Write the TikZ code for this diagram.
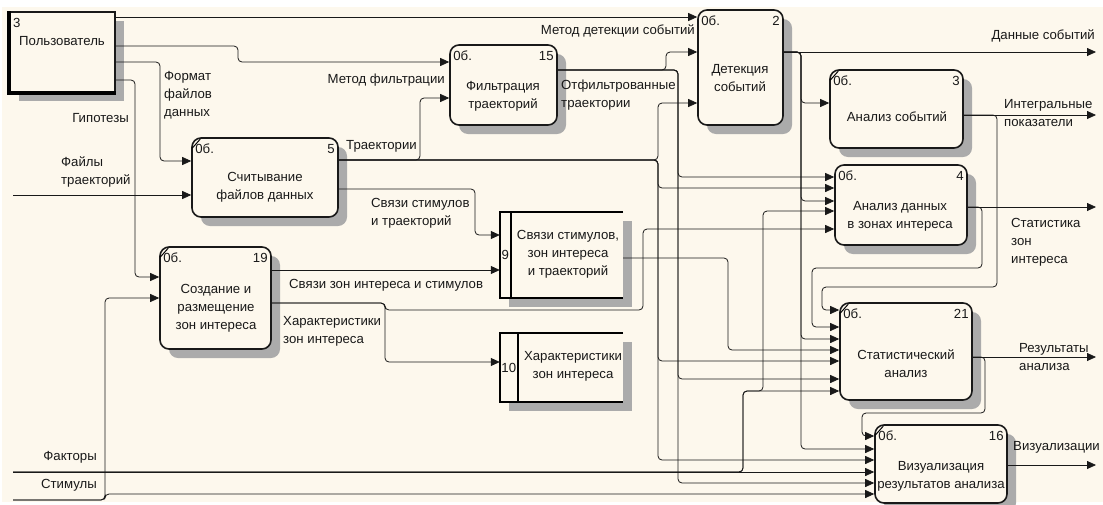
\documentclass[tikz,border=0pt]{standalone}
\usepackage{fontspec}
\setmainfont{Liberation Sans}
\usetikzlibrary{arrows.meta,shadows}
\definecolor{paper}{RGB}{253,248,237}
\definecolor{ink}{RGB}{25,25,25}

\begin{document}
\begin{tikzpicture}[x=1pt,y=-1pt,
    font=\fontsize{13.2}{18}\selectfont,
    every node/.append style={text=ink},
    boxshadow/.style={drop shadow={shadow xshift=9pt,shadow yshift=-9pt,fill=black!33,opacity=1}},
    proc/.style={draw=ink,line width=1.6pt,rounded corners=9pt,fill=paper,inner sep=0pt,boxshadow},
    ext/.style={draw=ink,line width=1.6pt,fill=paper,inner sep=0pt,boxshadow},
    store/.style={draw=none,fill=paper,inner sep=0pt,boxshadow},
    tag/.style={inner sep=0pt},
    txt/.style={inner sep=0pt,align=center},
    lbl/.style={inner sep=0pt,align=left},
    wire/.style={draw=ink,line width=0.8pt,rounded corners=4pt,-{Triangle[length=9pt,width=8pt]}}]

    \fill[white] (0,0) rectangle (1103,504);
    \fill[paper] (2,7) rectangle (1103,502);
    \useasboundingbox (0,0) rectangle (1103,504);

    % external entity
    \node [ext,minimum width=105pt,minimum height=80pt] (user) at (62.5,52) {};
    \draw [line width=3.5pt] (user.north west) -- (user.south west) -- (user.south east);
    \node [tag,anchor=base west] (usern) at (13,27) {3};
    \node [tag,anchor=base west] (usert) at (19,45) {Пользователь};

    % processes
    \node [proc,minimum width=146pt,minimum height=79pt] (p5) at (265,177.5) {};
    \node [proc,minimum width=111pt,minimum height=102pt] (p19) at (215.5,298) {};
    \node [proc,minimum width=107pt,minimum height=80pt] (p15) at (503.5,85) {};
    \node [proc,minimum width=85pt,minimum height=115pt] (p2) at (740.5,67.5) {};
    \node [proc,minimum width=133pt,minimum height=78pt] (p3) at (896.5,109) {};
    \node [proc,minimum width=132pt,minimum height=80pt] (p4) at (901,205) {};
    \node [proc,minimum width=132pt,minimum height=97pt] (p21) at (906,351.5) {};
    \node [proc,minimum width=132pt,minimum height=78pt] (p16) at (941,464) {};

    \foreach \b in {p5,p19,p3,p21,p16}
        \draw [line width=1pt] ([shift={(1,11)}]\b.north west) -- ([shift={(9,2)}]\b.north west);

    \node [txt] (p5t) at (265,187) {Считывание\\файлов данных};
    \node [txt] (p19t) at (216,308) {Создание и\\размещение\\зон интереса};
    \node [txt] (p15t) at (503,96) {Фильтрация\\траекторий};
    \node [txt] (p2t) at (740,78) {Детекция\\событий};
    \node [txt] (p3t) at (897,117) {Анализ событий};
    \node [txt] (p4t) at (900,216) {Анализ данных\\в зонах интереса};
    \node [txt] (p21t) at (906,364) {Статистический\\анализ};
    \node [txt] (p16t) at (941,476) {Визуализация\\результатов анализа};

    \node [tag,anchor=base west] (p5a) at ([shift={(4,16)}]p5.north west) {0б.};
    \node [tag,anchor=base east] (p5b) at ([shift={(-4,16)}]p5.north east) {5};
    \node [tag,anchor=base west] (p19a) at ([shift={(4,16)}]p19.north west) {0б.};
    \node [tag,anchor=base east] (p19b) at ([shift={(-4,16)}]p19.north east) {19};
    \node [tag,anchor=base west] (p15a) at ([shift={(4,16)}]p15.north west) {0б.};
    \node [tag,anchor=base east] (p15b) at ([shift={(-4,16)}]p15.north east) {15};
    \node [tag,anchor=base west] (p2a) at ([shift={(4,16)}]p2.north west) {0б.};
    \node [tag,anchor=base east] (p2b) at ([shift={(-4,16)}]p2.north east) {2};
    \node [tag,anchor=base west] (p3a) at ([shift={(4,16)}]p3.north west) {0б.};
    \node [tag,anchor=base east] (p3b) at ([shift={(-4,16)}]p3.north east) {3};
    \node [tag,anchor=base west] (p4a) at ([shift={(4,16)}]p4.north west) {0б.};
    \node [tag,anchor=base east] (p4b) at ([shift={(-4,16)}]p4.north east) {4};
    \node [tag,anchor=base west] (p21a) at ([shift={(4,16)}]p21.north west) {0б.};
    \node [tag,anchor=base east] (p21b) at ([shift={(-4,16)}]p21.north east) {21};
    \node [tag,anchor=base west] (p16a) at ([shift={(4,16)}]p16.north west) {0б.};
    \node [tag,anchor=base east] (p16b) at ([shift={(-4,16)}]p16.north east) {16};

    % data stores
    \node [store,minimum width=123pt,minimum height=86pt] (s9) at (561.5,255) {};
    \draw [line width=1.6pt] (s9.north east) -- (s9.north west) -- (s9.south west) -- (s9.south east);
    \draw [line width=1.6pt] ([xshift=11pt]s9.north west) -- ([xshift=11pt]s9.south west);
    \node [tag] (s9n) at ([xshift=5.5pt]s9.west) {9};
    \node [txt] (s9t) at (568,254) {Связи стимулов,\\зон интереса\\и траекторий};

    \node [store,minimum width=123pt,minimum height=69pt] (s10) at (561.5,367.5) {};
    \draw [line width=1.6pt] (s10.north east) -- (s10.north west) -- (s10.south west) -- (s10.south east);
    \draw [line width=1.6pt] ([xshift=18pt]s10.north west) -- ([xshift=18pt]s10.south west);
    \node [tag] (s10n) at ([xshift=9pt]s10.west) {10};
    \node [txt] (s10t) at (573,366) {Характеристики\\зон интереса};

    % free ends
    \coordinate (inf) at (13,195);
    \coordinate (infac) at (13,472);
    \coordinate (instim) at (13,500);
    \coordinate (out1) at (1096,52);
    \coordinate (out2) at (1096,115);
    \coordinate (out3) at (1096,207);
    \coordinate (out4) at (1096,357);
    \coordinate (out5) at (1096,465);

    % from the user
    \path[wire] (user.east |- 0,17) -- (p2.west |- 0,17);
    \path[wire] (user.east |- 0,46) -- (238,46) -- (238,62) -- (p15.west |- 0,62);
    \path[wire] (user.east |- 0,62) -- (160,62) -- (160,161) -- (p5.west |- 0,161);
    \path[wire] (user.east |- 0,80) -- (135,80) -- (135,277) -- (p19.west |- 0,277);

    % inputs
    \path[wire] (inf) -- (p5.west |- 0,195);
    \path[wire] (instim) -- (105,500) -- (105,298) -- (p19.west |- 0,298);
    \path[wire] (instim) -- (105,500) -- (105,494) -- (p16.west |- 0,494);
    \path[wire] (infac) -- (p16.west |- 0,472);
    \path[wire] (infac) -- (743,472) -- (743,391) -- (p21.west |- 0,391);
    \path[wire] (infac) -- (743,472) -- (743,391) -- (763,391) -- (763,211) -- (p4.west |- 0,211);

    % trajectories
    \path[wire] (p5.east |- 0,160) -- (420,160) -- (420,98) -- (p15.west |- 0,98);
    \path[wire] (p5.east |- 0,160) -- (658,160) -- (658,103) -- (p2.west |- 0,103);
    \path[wire] (p5.east |- 0,160) -- (658,160) -- (658,188) -- (p4.west |- 0,188);
    \path[wire] (p5.east |- 0,160) -- (658,160) -- (658,361) -- (p21.west |- 0,361);
    \path[wire] (p5.east |- 0,160) -- (658,160) -- (658,460) -- (p16.west |- 0,460);
    \path[wire] (p5.east |- 0,189) -- (475,189) -- (475,235) -- (s9.west |- 0,235);

    % filtered trajectories
    \path[wire] (p15.east |- 0,70) -- (666,70) -- (666,52) -- (p2.west |- 0,52);
    \path[wire] (p15.east |- 0,70) -- (678,70) -- (678,177) -- (p4.west |- 0,177);
    \path[wire] (p15.east |- 0,70) -- (678,70) -- (678,379) -- (p21.west |- 0,379);
    \path[wire] (p15.east |- 0,70) -- (678,70) -- (678,483) -- (p16.west |- 0,483);

    % zones of interest
    \path[wire] (p19.east |- 0,270) -- (s9.west |- 0,270);
    \path[wire] (p19.east |- 0,303) -- (385,303) -- (385,362) -- (s10.west |- 0,362);
    \path[wire] (p19.east |- 0,303) -- (385,303) -- (385,310) -- (643,310) -- (643,229) -- (p4.west |- 0,229);
    \path[wire] (s9.east |- 0,258) -- (728,258) -- (728,350) -- (p21.west |- 0,350);

    % event data
    \path[wire] (p2.east |- 0,52) -- (out1);
    \path[wire] (p2.east |- 0,52) -- (801,52) -- (801,103) -- (p3.west |- 0,103);
    \path[wire] (p2.east |- 0,52) -- (801,52) -- (801,201) -- (p4.west |- 0,201);
    \path[wire] (p2.east |- 0,52) -- (801,52) -- (801,339) -- (p21.west |- 0,339);
    \path[wire] (p2.east |- 0,52) -- (801,52) -- (801,449) -- (p16.west |- 0,449);

    % analysis outputs
    \path[wire] (p3.east |- 0,115) -- (out2);
    \path[wire] (p3.east |- 0,115) -- (997,115) -- (997,287) -- (822,287) -- (822,310) -- (p21.west |- 0,310);
    \path[wire] (p4.east |- 0,207) -- (out3);
    \path[wire] (p4.east |- 0,207) -- (982,207) -- (982,268) -- (812,268) -- (812,327) -- (p21.west |- 0,327);
    \path[wire] (p21.east |- 0,357) -- (out4);
    \path[wire] (p21.east |- 0,357) -- (985,357) -- (985,413) -- (862,413) -- (862,436) -- (p16.west |- 0,436);
    \path[wire] (p16.east |- 0,465) -- (out5);

    % arrow labels
    \node [lbl,anchor=east] (lmd) at (695,31) {Метод детекции событий};
    \node [lbl,anchor=east] (lmf) at (445,80) {Метод фильтрации};
    \node [lbl,anchor=west] (lff) at (164,95) {Формат\\файлов\\данных};
    \node [lbl,anchor=east] (lhyp) at (129,118) {Гипотезы};
    \node [lbl,anchor=west] (lft) at (61,172) {Файлы\\траекторий};
    \node [lbl,anchor=west] (ltr) at (346,146) {Траектории};
    \node [lbl,anchor=west] (lftr) at (561,95) {Отфильтрованные\\траектории};
    \node [lbl,anchor=west] (lst) at (371,213) {Связи стимулов\\и траекторий};
    \node [lbl,anchor=west] (lzs) at (289,285) {Связи зон интереса и стимулов};
    \node [lbl,anchor=west] (lzc) at (283,331) {Характеристики\\зон интереса};
    \node [lbl,anchor=east] (lfac) at (97,457) {Факторы};
    \node [lbl,anchor=east] (lstim) at (97,485) {Стимулы};
    \node [lbl,anchor=east] (lev) at (1095,36) {Данные событий};
    \node [lbl,anchor=west] (lint) at (1004,113) {Интегральные\\показатели};
    \node [lbl,anchor=west] (lstat) at (1011,242) {Статистика\\зон\\интереса};
    \node [lbl,anchor=west] (lres) at (1019,357) {Результаты\\анализа};
    \node [lbl,anchor=west] (lvis) at (1013,447) {Визуализации};

\end{tikzpicture}
\end{document}
